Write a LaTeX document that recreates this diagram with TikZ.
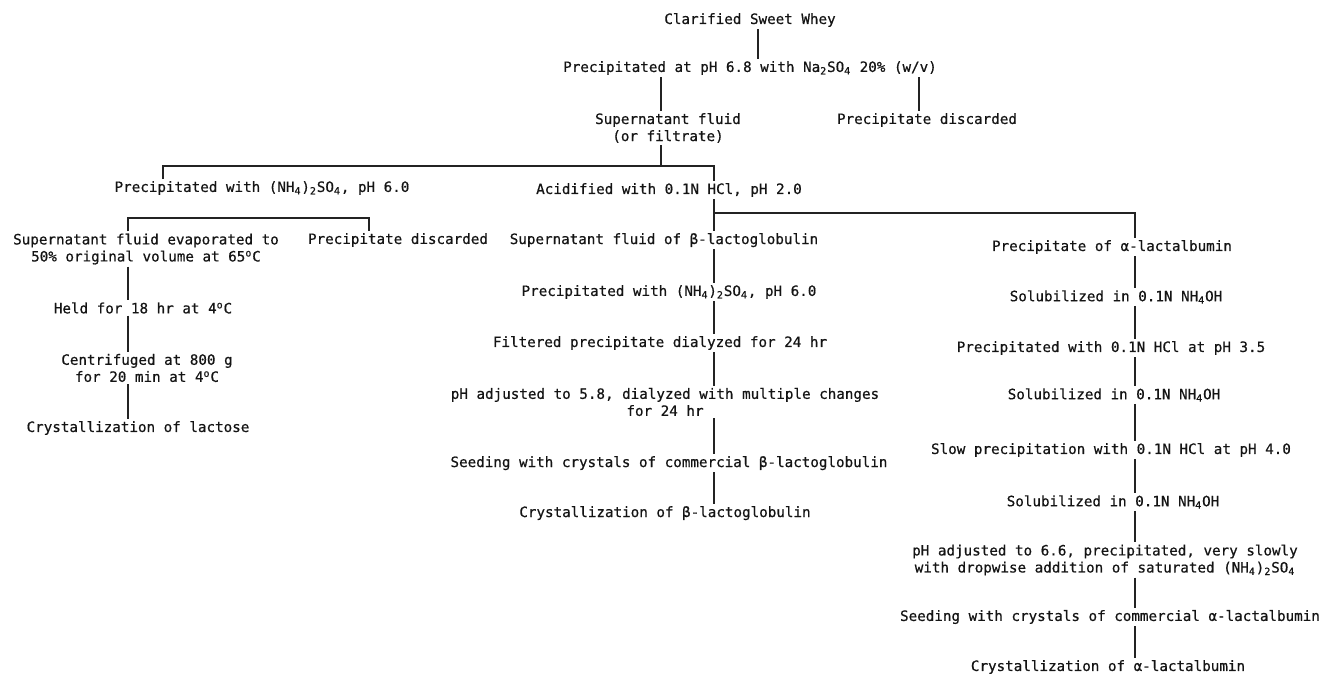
\documentclass[tikz,border=0pt]{standalone}
\usepackage{fontspec}
\usepackage{xcolor}
\usepackage{tikz}
\newfontfamily\typefont[FakeBold=0.6]{DejaVu Sans Mono}
\usetikzlibrary{positioning, calc}
\definecolor{inkcolor}{RGB}{20,20,20}
\definecolor{linecolor}{RGB}{35,35,35}

\begin{document}
\begin{tikzpicture}[
    x=0.02cm, y=-0.02cm,
    stage/.style={inner sep=1pt, align=center, text=inkcolor, font=\typefont\fontsize{8.1}{9.7}\selectfont},
    link/.style={line width=0.6pt, linecolor}
]
    \useasboundingbox (0,0) rectangle (1323,677);

    % Column positions
    \coordinate (cW) at (758,0);
    \coordinate (cT) at (661,0);
    \coordinate (cD) at (919,0);
    \coordinate (cA) at (163,0);
    \coordinate (cL) at (128,0);
    \coordinate (cP) at (369,0);
    \coordinate (cM) at (714,0);
    \coordinate (cR) at (1135,0);

    % Top
    \node[stage] (csw) at (750,20) {Clarified Sweet Whey};
    \node[stage] (p68) at (750,68) {Precipitated at pH 6.8 with Na\textsubscript{2}SO\textsubscript{4} 20\% (w/v)};
    \node[stage] (sup) at (668,128) {Supernatant fluid\\(or filtrate)};
    \node[stage] (pd1) at (927,120) {Precipitate discarded};
    \node[stage] (pwa) at (262,188) {Precipitated with (NH\textsubscript{4})\textsubscript{2}SO\textsubscript{4}, pH 6.0};
    \node[stage] (acid) at (669,190) {Acidified with 0.1N HCl, pH 2.0};

    % Lactose branch
    \node[stage] (sev) at (146,249) {Supernatant fluid evaporated to\\50\% original volume at 65\textsuperscript{o}C};
    \node[stage] (pd2) at (398,240) {Precipitate discarded};
    \node[stage] (held) at (143,308) {Held for 18 hr at 4\textsuperscript{o}C};
    \node[stage] (cen) at (147,368) {Centrifuged at 800 g\\for 20 min at 4\textsuperscript{o}C};
    \node[stage] (cl) at (138,428) {Crystallization of lactose};

    % Beta-lactoglobulin branch
    \node[stage] (sb) at (664,240) {Supernatant fluid of β-lactoglobulin};
    \node[stage] (pb) at (669,292) {Precipitated with (NH\textsubscript{4})\textsubscript{2}SO\textsubscript{4}, pH 6.0};
    \node[stage] (fb) at (660,343) {Filtered precipitate dialyzed for 24 hr};
    \node[stage] (ab) at (665,402) {pH adjusted to 5.8, dialyzed with multiple changes\\for 24 hr};
    \node[stage] (seb) at (669,463) {Seeding with crystals of commercial β-lactoglobulin};
    \node[stage] (cb) at (665,513) {Crystallization of β-lactoglobulin};

    % Alpha-lactalbumin branch
    \node[stage] (pal) at (1112,247) {Precipitate of α-lactalbumin};
    \node[stage] (s1) at (1116,297) {Solubilized in 0.1N NH\textsubscript{4}OH};
    \node[stage] (p35) at (1111,348) {Precipitated with 0.1N HCl at pH 3.5};
    \node[stage] (s2) at (1114,395) {Solubilized in 0.1N NH\textsubscript{4}OH};
    \node[stage] (p40) at (1111,450) {Slow precipitation with 0.1N HCl at pH 4.0};
    \node[stage] (s3) at (1113,502) {Solubilized in 0.1N NH\textsubscript{4}OH};
    \node[stage] (a66) at (1105,560) {pH adjusted to 6.6, precipitated, very slowly\\with dropwise addition of saturated (NH\textsubscript{4})\textsubscript{2}SO\textsubscript{4}};
    \node[stage] (sea) at (1110,617) {Seeding with crystals of commercial α-lactalbumin};
    \node[stage] (ca) at (1108,667) {Crystallization of α-lactalbumin};

    % Junctions
    \coordinate (bar1) at (661,166);
    \coordinate (bar2) at (250,218);
    \coordinate (bar3) at (714,213);

    % Connectors
    \draw[link] (csw.south -| cW) -- (p68.north -| cW);
    \draw[link] (p68.south -| cT) -- (sup.north -| cT);
    \draw[link] (p68.south -| cD) -- (pd1.north -| cD);
    \draw[link] (sup.south -| cT) -- (bar1);
    \draw[link] (pwa.north -| cA) |- (bar1) -| (acid.north -| cM);
    \draw[link] (sev.north -| cL) |- (bar2) -| (pd2.north -| cP);
    \draw[link] (sev.south -| cL) -- (held.north -| cL);
    \draw[link] (held.south -| cL) -- (cen.north -| cL);
    \draw[link] (cen.south -| cL) -- (cl.north -| cL);
    \draw[link] (acid.south -| cM) -- (sb.north -| cM);
    \draw[link] (bar3) -| (pal.north -| cR);
    \draw[link] (sb.south -| cM) -- (pb.north -| cM);
    \draw[link] (pb.south -| cM) -- (fb.north -| cM);
    \draw[link] (fb.south -| cM) -- (ab.north -| cM);
    \draw[link] (ab.south -| cM) -- (seb.north -| cM);
    \draw[link] (seb.south -| cM) -- (cb.north -| cM);
    \draw[link] (pal.south -| cR) -- (s1.north -| cR);
    \draw[link] (s1.south -| cR) -- (p35.north -| cR);
    \draw[link] (p35.south -| cR) -- (s2.north -| cR);
    \draw[link] (s2.south -| cR) -- (p40.north -| cR);
    \draw[link] (p40.south -| cR) -- (s3.north -| cR);
    \draw[link] (s3.south -| cR) -- (a66.north -| cR);
    \draw[link] (a66.south -| cR) -- (sea.north -| cR);
    \draw[link] (sea.south -| cR) -- (ca.north -| cR);
\end{tikzpicture}
\end{document}
